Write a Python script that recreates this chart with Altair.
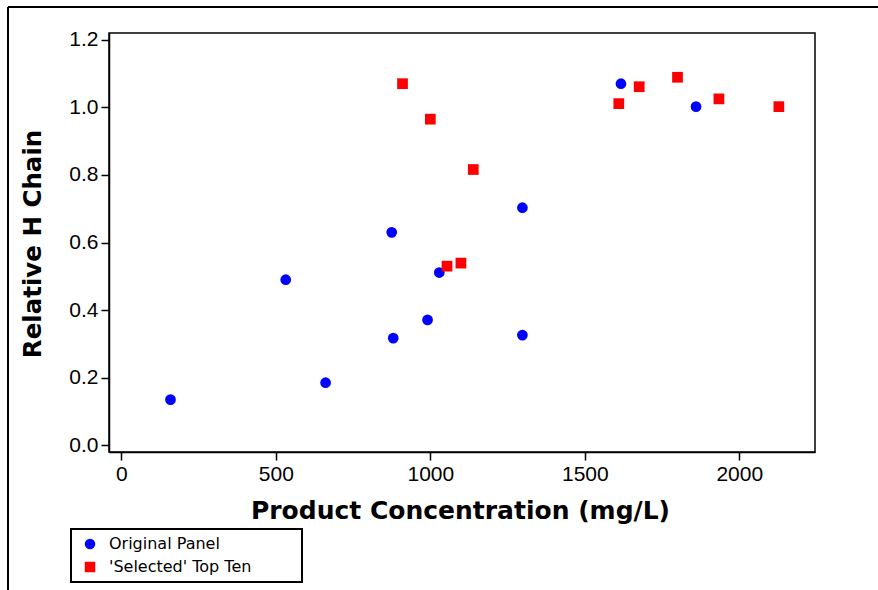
import altair as alt
import pandas as pd

orig_x = [159, 532, 661, 875, 880, 991, 1029, 1298, 1298, 1617, 1860]
orig_y = [0.135, 0.490, 0.185, 0.630, 0.317, 0.371, 0.511, 0.326, 0.703, 1.070, 1.002]
sel_x = [910, 1000, 1054, 1099, 1139, 1610, 1676, 1800, 1934, 2128]
sel_y = [1.070, 0.965, 0.530, 0.539, 0.816, 1.011, 1.061, 1.089, 1.025, 1.002]
groups = ["Original Panel", "'Selected' Top Ten"]
x_ticks = [0, 500, 1000, 1500, 2000]
y_ticks = [0.0, 0.2, 0.4, 0.6, 0.8, 1.0, 1.2]

df = pd.DataFrame({
    "x": orig_x + sel_x,
    "y": orig_y + sel_y,
    "g": [groups[0]] * len(orig_x) + [groups[1]] * len(sel_x),
})

W, H = 706, 419

points = alt.Chart(df).mark_point(filled=True, opacity=1, size=115, strokeWidth=0).encode(
    x=alt.X("x:Q", scale=alt.Scale(domain=[-40, 2245], nice=False, zero=False),
            axis=alt.Axis(values=x_ticks, format="d", title="Product Concentration (mg/L)",
                          titleX=W / 2 - 2, titleY=58, titleBaseline="middle",
                          titleFontSize=25)),
    y=alt.Y("y:Q", scale=alt.Scale(domain=[-0.02, 1.22], nice=False, zero=False),
            axis=alt.Axis(values=y_ticks, format=".1f", title="Relative H Chain",
                          titleX=-76, titleY=H / 2 + 1, titleAngle=-90,
                          titleBaseline="middle", titleAlign="center",
                          titleFontSize=24.5)),
    color=alt.Color("g:N", scale=alt.Scale(domain=groups, range=["#0000ff", "#ff0000"]),
                    legend=alt.Legend(title=None, orient="none", legendX=-27, legendY=503,
                                      padding=0,
                                      labelFont="DejaVu Sans", labelFontSize=16,
                                      symbolSize=110, rowPadding=7, labelOffset=11,
                                      symbolStrokeWidth=0)),
    shape=alt.Shape("g:N", scale=alt.Scale(domain=groups, range=["circle", "square"]),
                    legend=None),
)

top_border = alt.Chart(df).mark_rule(color="black", strokeWidth=2).encode(
    x=alt.value(-101), x2=alt.value(780), y=alt.value(-26))
left_border = alt.Chart(df).mark_rule(color="black", strokeWidth=2).encode(
    x=alt.value(-101), y=alt.value(-26), y2=alt.value(560))
legend_box = alt.Chart(df).mark_rect(fill=None, stroke="black", strokeWidth=1.5).encode(
    x=alt.value(-38), x2=alt.value(193), y=alt.value(496), y2=alt.value(549))

chart = alt.layer(points, top_border, left_border, legend_box).properties(
    width=W, height=H,
    autosize=alt.AutoSizeParams(type="none"),
    padding={"left": 109, "top": 33, "right": 63, "bottom": 138},
).configure_view(
    stroke="black", strokeWidth=1.5
).configure_axis(
    grid=False, domainColor="black", domainWidth=1.5, tickColor="black", tickWidth=1.5,
    tickSize=8, labelFont="Liberation Sans", labelFontSize=21, labelColor="black",
    labelPadding=3, titleFont="DejaVu Sans", titleFontWeight="bold",
    titleColor="black",
)

chart.save("out.html", embed_options={"renderer": "svg", "actions": False})
